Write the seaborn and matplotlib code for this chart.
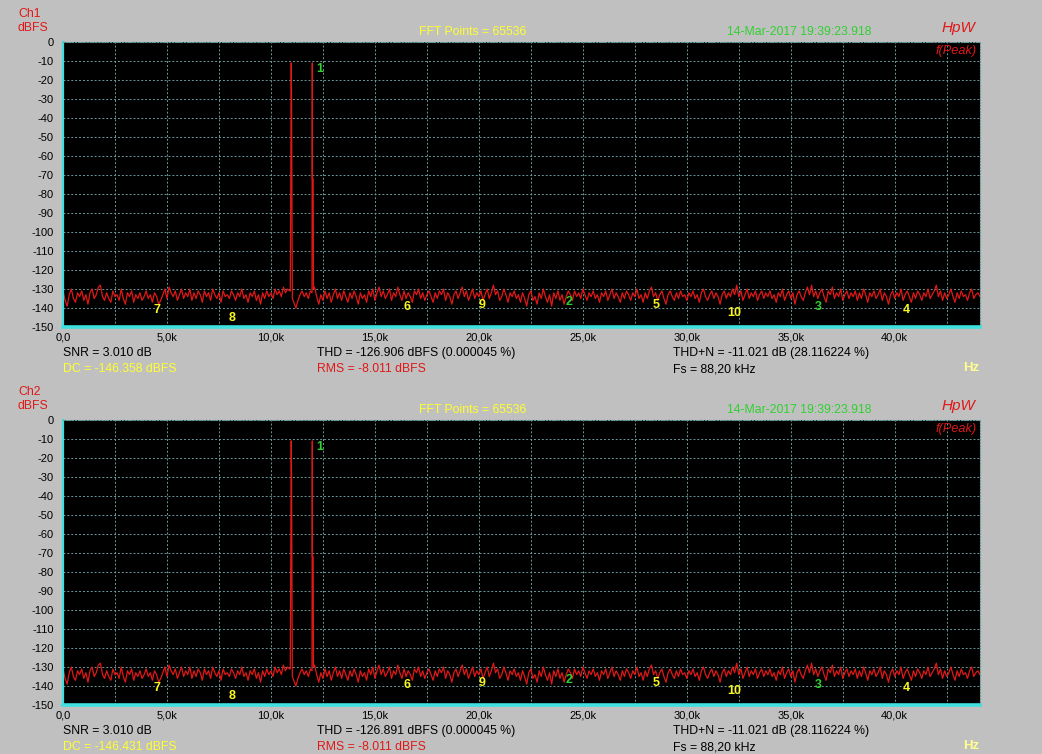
import matplotlib.pyplot as plt
import numpy as np
import pandas as pd
import seaborn as sns

sns.set_theme(style="ticks")
plt.rcParams["font.family"] = ["Liberation Sans", "DejaVu Sans"]

# noise floor in dBFS, one value per 100 Hz bin, 0 .. 44.1 kHz
noise_step_hz = 100
noise_db = [
    -131, -136, -139, -133, -130, -135, -137, -132, -134, -131, -136, -133, -138, -132, -130, -135, -133, -129, -128, -134,
    -136, -132, -135, -137, -131, -134, -133, -136, -130, -135, -138, -132, -134, -131, -137, -133, -135, -132, -136, -134,
    -131, -135, -133, -137, -132, -134, -138, -136, -133, -130, -135, -129, -132, -134, -131, -136, -133, -130, -135, -132,
    -134, -130, -136, -132, -135, -131, -133, -137, -131, -134, -132, -136, -130, -133, -135, -132, -137, -131, -134, -133,
    -135, -131, -133, -136, -132, -134, -130, -135, -133, -137, -132, -134, -131, -136, -133, -138, -132, -135, -131, -134,
    -132, -135, -130, -133, -131, -134, -129, -132, -130, -131, -134, -137, -140, -136, -133, -131, -134, -132, -135, -131,
    -133, -129, -134, -138, -133, -136, -131, -135, -132, -137, -133, -130, -135, -132, -136, -131, -134, -137, -132, -135,
    -131, -134, -138, -132, -135, -133, -137, -131, -134, -130, -136, -132, -129, -134, -131, -135, -133, -130, -136, -132,
    -134, -129, -133, -136, -131, -135, -132, -134, -137, -131, -133, -130, -135, -132, -136, -133, -131, -134, -137, -132,
    -135, -131, -133, -130, -136, -132, -134, -138, -133, -131, -135, -132, -129, -134, -131, -136, -133, -130, -135, -132,
    -134, -131, -136, -133, -130, -135, -132, -128, -133, -131, -136, -134, -130, -133, -137, -132, -134, -131, -135, -133,
    -137, -132, -135, -139, -133, -131, -136, -134, -138, -132, -135, -130, -134, -137, -133, -139, -132, -135, -131, -136,
    -133, -138, -134, -131, -133, -136, -131, -134, -132, -135, -130, -133, -136, -132, -134, -131, -135, -133, -137, -132,
    -134, -131, -136, -133, -130, -135, -132, -134, -137, -132, -135, -131, -133, -136, -132, -134, -130, -135, -133, -137,
    -132, -135, -131, -129, -134, -132, -136, -133, -131, -135, -138, -133, -131, -134, -136, -132, -135, -131, -134, -133,
    -136, -132, -134, -131, -135, -133, -137, -132, -130, -134, -136, -133, -131, -135, -132, -134, -138, -133, -131, -135,
    -132, -134, -130, -133, -128, -134, -131, -136, -133, -130, -135, -132, -134, -131, -136, -133, -131, -135, -132, -134,
    -131, -135, -133, -137, -132, -134, -130, -136, -133, -131, -135, -132, -138, -133, -131, -134, -136, -132, -129, -133,
    -128, -134, -131, -135, -132, -130, -134, -137, -131, -133, -129, -135, -132, -134, -130, -136, -133, -131, -135, -132,
    -134, -131, -136, -132, -135, -130, -133, -137, -132, -134, -131, -135, -133, -130, -136, -132, -134, -138, -133, -131,
    -135, -132, -134, -130, -136, -133, -131, -134, -137, -132, -135, -131, -133, -136, -132, -134, -130, -135, -133, -131,
    -128, -134, -131, -136, -132, -135, -133, -130, -134, -137, -132, -135, -131, -134, -133, -136, -132, -130, -135, -133,
    -132, -134,
]

# the two tones
peak1_hz = [10930, 10955, 10975, 10990, 11005, 11030]
peak1_db = [-131, -72, -11, -29, -72, -135]
peak2_hz = [11975, 11990, 11995, 12030, 12045]
peak2_db = [-132, -11, -72, -72, -130]

# harmonic markers
harm_labels = ["1", "2", "3", "4", "5", "6", "7", "8", "9", "10"]
harm_khz = [12.0, 24.0, 36.0, 40.2, 28.2, 16.2, 4.2, 7.8, 19.8, 31.8]
harm_label_db = [-14, -137, -139.5, -141, -138.4, -139.5, -141, -145.3, -138.4, -142.6]
harm_green = [True, True, True, False, False, False, False, False, False, False]

y_ticks = list(range(0, -151, -10))
x_tick_hz = [0, 5000, 10000, 15000, 20000, 25000, 30000, 35000, 40000]
x_tick_labels = ["0,0", "5,0k", "10,0k", "15,0k", "20,0k", "25,0k", "30,0k", "35,0k", "40,0k"]

channels = ["Ch1", "Ch2"]
fft_text = "FFT Points = 65536"
stamp_text = "14-Mar-2017 19:39:23.918"
snr_text = "SNR = 3.010 dB"
dc_texts = ["DC = -146.358 dBFS", "DC = -146.431 dBFS"]
thd_texts = ["THD = -126.906 dBFS (0.000045 %)", "THD = -126.891 dBFS (0.000045 %)"]
rms_text = "RMS = -8.011 dBFS"
thdn_text = "THD+N = -11.021 dB (28.116224 %)"
fs_text = "Fs = 88,20 kHz"

W, H = 1042, 754
BG = "#c0c0c0"
RED = "#e01818"
YELLOW = "#ffff30"
GREEN = "#30d030"
GRID = "#6a9a9a"
CYAN = "#40e0e0"

noise_hz = np.arange(len(noise_db)) * noise_step_hz
noise_arr = np.array(noise_db, dtype=float)
keep = ~(((noise_hz >= min(peak1_hz)) & (noise_hz <= max(peak1_hz)))
         | ((noise_hz >= min(peak2_hz)) & (noise_hz <= max(peak2_hz))))
spectrum = pd.DataFrame({
    "hz": np.concatenate([noise_hz[keep], peak1_hz, peak2_hz]),
    "db": np.concatenate([noise_arr[keep], peak1_db, peak2_db]),
}).sort_values("hz")


def fig_xy(x, y):
    return x / W, 1 - y / H


fig = plt.figure(figsize=(W / 100, H / 100), dpi=100, facecolor=BG)


def draw_panel(idx, top):
    ax = fig.add_axes([63 / W, 1 - (top + 285) / H, 917 / W, 285 / H])
    ax.set_facecolor("black")
    sns.lineplot(data=spectrum, x="hz", y="db", ax=ax, color=RED,
                 linewidth=0.9, estimator=None)
    ax.set_xlim(0, 44100)
    ax.set_ylim(-150, 0)
    ax.set_xlabel("")
    ax.set_ylabel("")
    ax.set_xticks(x_tick_hz, x_tick_labels)
    ax.set_xticks(np.arange(0, 44100, 2500), minor=True)
    ax.set_yticks(y_ticks, [str(v) for v in y_ticks])
    ax.tick_params(which="both", length=0, labelsize=8, colors="black")
    ax.tick_params(axis="x", pad=4)
    ax.tick_params(axis="y", pad=6.5)
    ax.grid(which="both", axis="x", color=GRID, linestyle=(0, (2, 2)), linewidth=0.7)
    ax.grid(which="major", axis="y", color=GRID, linestyle=(0, (2, 2)), linewidth=0.7)
    ax.set_axisbelow(True)
    for side in ["top", "right"]:
        ax.spines[side].set_color(GRID)
        ax.spines[side].set_linestyle(":")
        ax.spines[side].set_linewidth(0.8)
    ax.spines["left"].set_color(CYAN)
    ax.spines["left"].set_linewidth(1.6)
    ax.spines["bottom"].set_color(CYAN)
    ax.spines["bottom"].set_linewidth(2.6)

    for lab, khz, db, green in zip(harm_labels, harm_khz, harm_label_db, harm_green):
        ax.annotate(lab, (khz * 1000, db), xytext=(2.5, 0), textcoords="offset points",
                    ha="left", va="center", fontsize=9, fontweight="bold",
                    color=GREEN if green else "#f8f820", annotation_clip=False)

    fs = 8.8
    fig.text(*fig_xy(18, top - 28), channels[idx], color=RED, fontsize=fs, va="center")
    fig.text(*fig_xy(18, top - 14), "dBFS", color=RED, fontsize=fs, va="center")
    fig.text(*fig_xy(419, top - 10), fft_text, color=YELLOW, fontsize=fs, va="center")
    fig.text(*fig_xy(727, top - 10), stamp_text, color=GREEN, fontsize=fs, va="center")
    fig.text(*fig_xy(975, top - 14), "HpW", color=RED, fontsize=11, style="italic",
             ha="right", va="center")
    fig.text(*fig_xy(977, top + 9), "f(Peak)", color=RED, fontsize=9.2, style="italic",
             ha="right", va="center")
    fig.text(*fig_xy(63, top + 311), snr_text, color="black", fontsize=fs, va="center")
    fig.text(*fig_xy(63, top + 327), dc_texts[idx], color=YELLOW, fontsize=fs, va="center")
    fig.text(*fig_xy(317, top + 311), thd_texts[idx], color="black", fontsize=fs, va="center")
    fig.text(*fig_xy(317, top + 327), rms_text, color=RED, fontsize=fs, va="center")
    fig.text(*fig_xy(673, top + 311), thdn_text, color="black", fontsize=fs, va="center")
    fig.text(*fig_xy(673, top + 327), fs_text, color="black", fontsize=fs, va="center")
    fig.text(*fig_xy(979, top + 326), "Hz", color="#ffff90", fontsize=9.5,
             fontweight="bold", ha="right", va="center")
    return ax


draw_panel(0, 42)
draw_panel(1, 420)

fig.savefig("out.png", dpi=100, facecolor=BG)
